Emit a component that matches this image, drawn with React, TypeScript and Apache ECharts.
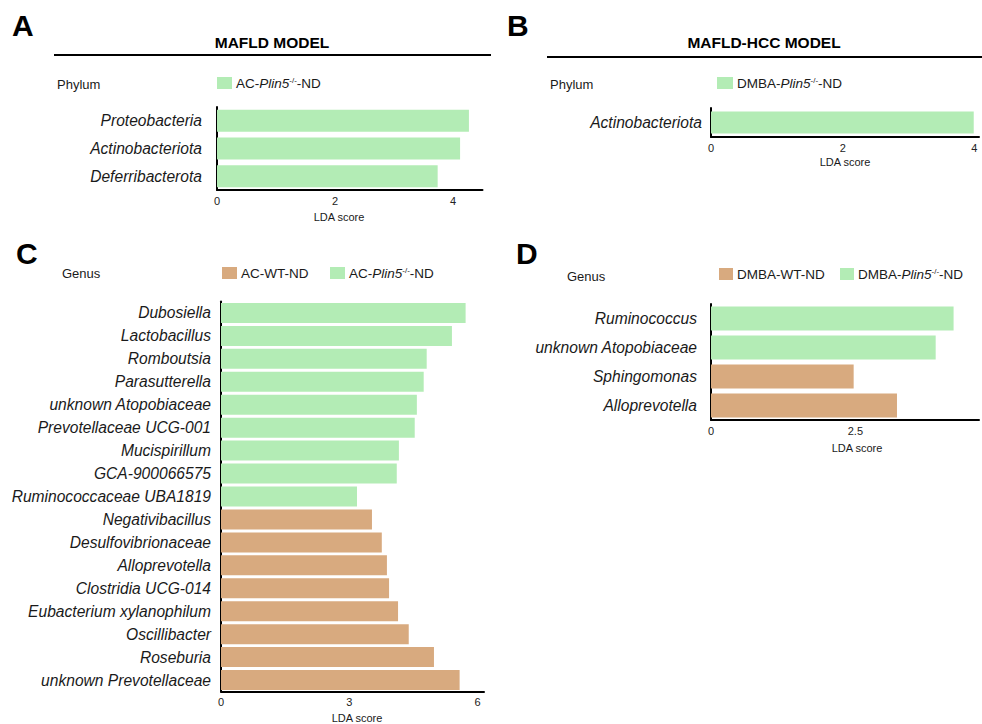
import React, { useEffect, useRef } from "react";
import * as echarts from "echarts";

const GREEN = "#b3ecb5";
const BROWN = "#d8aa7f";
const FONT = "'Liberation Sans', Arial, Helvetica, sans-serif";

const phylumA = ["Proteobacteria", "Actinobacteriota", "Deferribacterota"];
const ldaA = [4.27, 4.12, 3.74];

const phylumB = ["Actinobacteriota"];
const ldaB = [3.99];

const genusC = [
  "Dubosiella",
  "Lactobacillus",
  "Romboutsia",
  "Parasutterella",
  "unknown Atopobiaceae",
  "Prevotellaceae UCG-001",
  "Mucispirillum",
  "GCA-900066575",
  "Ruminococcaceae UBA1819",
  "Negativibacillus",
  "Desulfovibrionaceae",
  "Alloprevotella",
  "Clostridia UCG-014",
  "Eubacterium xylanophilum",
  "Oscillibacter",
  "Roseburia",
  "unknown Prevotellaceae",
];
const groupC = ["KO", "KO", "KO", "KO", "KO", "KO", "KO", "KO", "KO", "WT", "WT", "WT", "WT", "WT", "WT", "WT", "WT"];
const ldaC = [5.72, 5.4, 4.81, 4.74, 4.58, 4.53, 4.16, 4.11, 3.18, 3.53, 3.76, 3.88, 3.93, 4.14, 4.39, 4.98, 5.58];

const genusD = ["Ruminococcus", "unknown Atopobiaceae", "Sphingomonas", "Alloprevotella"];
const groupD = ["KO", "KO", "WT", "WT"];
const ldaD = [4.2, 3.89, 2.47, 3.22];

const NAME_AC_KO = "AC-Plin5-/--ND";
const NAME_AC_WT = "AC-WT-ND";
const NAME_DM_KO = "DMBA-Plin5-/--ND";
const NAME_DM_WT = "DMBA-WT-ND";

function legendLabel(name: string): string {
  if (name.indexOf("Plin5") >= 0) {
    const prefix = name.split("Plin5")[0];
    return prefix + "{i|Plin5}{s|-/-}-ND";
  }
  return name;
}

function pick(values: number[], groups: string[], g: string) {
  return values.map((v, i) => (groups[i] === g ? v : "-"));
}

function xAxisCfg(gridIndex: number, max: number, interval: number) {
  return {
    type: "value",
    gridIndex,
    min: 0,
    max,
    interval,
    axisLine: { show: true, lineStyle: { color: "#000", width: 2 } },
    axisTick: { show: false },
    splitLine: { show: false },
    axisLabel: {
      margin: 5,
      fontSize: 11,
      fontFamily: FONT,
      color: "#222",
      formatter: (v: number) => {
        const r = v / interval;
        return Math.abs(r - Math.round(r)) < 1e-6 ? String(v) : "";
      },
    },
  };
}

function yAxisCfg(gridIndex: number, data: string[], margin: number) {
  return {
    type: "category",
    gridIndex,
    data,
    inverse: true,
    axisLine: { show: true, lineStyle: { color: "#000", width: 2 } },
    axisTick: { show: false },
    splitLine: { show: false },
    axisLabel: {
      margin,
      fontSize: 15.6,
      fontStyle: "italic",
      fontFamily: FONT,
      color: "#1a1a1a",
    },
  };
}

function legendCfg(name: string, left: number, top: number, w: number, h: number) {
  return {
    data: [name],
    left,
    top,
    padding: 0,
    itemWidth: w,
    itemHeight: h,
    itemGap: 0,
    selectedMode: false,
    icon: "rect",
    formatter: legendLabel,
    textStyle: {
      fontSize: 13.5,
      fontFamily: FONT,
      color: "#1a1a1a",
      padding: [0, 0, 0, -1],
      rich: {
        i: { fontStyle: "italic", fontSize: 13.5, fontFamily: FONT, color: "#1a1a1a" },
        s: { fontSize: 8, fontFamily: FONT, color: "#1a1a1a", verticalAlign: "top", padding: [0, 0, 6, 0] },
      },
    },
  };
}

function txt(text: string, x: number, y: number, size: number, opts: any = {}) {
  return {
    type: "text",
    x,
    y,
    style: {
      text,
      fontSize: size,
      fontFamily: FONT,
      fill: opts.fill || "#1a1a1a",
      fontWeight: opts.bold ? "bold" : "normal",
      textAlign: opts.align || "left",
      textVerticalAlign: "middle",
    },
  };
}

export default function App() {
  const ref = useRef<HTMLDivElement>(null);

  useEffect(() => {
    if (!ref.current) return;
    const chart = echarts.init(ref.current, null, { renderer: "svg" });
    const option: any = {
      animation: false,
      backgroundColor: "#fff",
      grid: [
        { left: 217, top: 107, width: 265.5, height: 83 },
        { left: 711, top: 108, width: 271, height: 29 },
        { left: 221, top: 301.5, width: 263, height: 390 },
        { left: 711, top: 304, width: 271, height: 116 },
      ],
      xAxis: [
        xAxisCfg(0, 4.5, 2),
        xAxisCfg(1, 4.07, 2),
        xAxisCfg(2, 6.15, 3),
        xAxisCfg(3, 4.64, 2.5),
      ],
      yAxis: [
        yAxisCfg(0, phylumA, 15),
        yAxisCfg(1, phylumB, 9),
        yAxisCfg(2, genusC, 10),
        yAxisCfg(3, genusD, 14),
      ],
      legend: [
        legendCfg(NAME_AC_KO, 217, 76, 15, 12),
        legendCfg(NAME_DM_KO, 717, 76, 16, 12),
        legendCfg(NAME_AC_WT, 222, 266, 15, 12),
        legendCfg(NAME_AC_KO, 330, 266, 15, 12),
        legendCfg(NAME_DM_WT, 719, 267, 14, 12),
        legendCfg(NAME_DM_KO, 840, 267, 14, 12),
      ],
      series: [
        {
          name: NAME_AC_KO,
          type: "bar",
          xAxisIndex: 0,
          yAxisIndex: 0,
          data: ldaA,
          barWidth: 22,
          itemStyle: { color: GREEN },
        },
        {
          name: NAME_DM_KO,
          type: "bar",
          xAxisIndex: 1,
          yAxisIndex: 1,
          data: ldaB,
          barWidth: 22,
          itemStyle: { color: GREEN },
        },
        {
          name: NAME_AC_WT,
          type: "bar",
          stack: "c",
          xAxisIndex: 2,
          yAxisIndex: 2,
          data: pick(ldaC, groupC, "WT"),
          barWidth: 20,
          itemStyle: { color: BROWN },
        },
        {
          name: NAME_AC_KO,
          type: "bar",
          stack: "c",
          xAxisIndex: 2,
          yAxisIndex: 2,
          data: pick(ldaC, groupC, "KO"),
          barWidth: 20,
          itemStyle: { color: GREEN },
        },
        {
          name: NAME_DM_WT,
          type: "bar",
          stack: "d",
          xAxisIndex: 3,
          yAxisIndex: 3,
          data: pick(ldaD, groupD, "WT"),
          barWidth: 24,
          itemStyle: { color: BROWN },
        },
        {
          name: NAME_DM_KO,
          type: "bar",
          stack: "d",
          xAxisIndex: 3,
          yAxisIndex: 3,
          data: pick(ldaD, groupD, "KO"),
          barWidth: 24,
          itemStyle: { color: GREEN },
        },
      ],
      graphic: [
        txt("A", 12, 25, 30, { bold: true, fill: "#000" }),
        txt("B", 507, 25, 30, { bold: true, fill: "#000" }),
        txt("C", 16, 253, 30, { bold: true, fill: "#000" }),
        txt("D", 516, 253, 30, { bold: true, fill: "#000" }),
        txt("MAFLD MODEL", 272, 42, 15.5, { bold: true, align: "center", fill: "#000" }),
        txt("MAFLD-HCC MODEL", 764, 42, 15.5, { bold: true, align: "center", fill: "#000" }),
        { type: "line", shape: { x1: 54, y1: 55, x2: 491, y2: 55 }, style: { stroke: "#000", lineWidth: 2 } },
        { type: "line", shape: { x1: 547, y1: 57, x2: 982, y2: 57 }, style: { stroke: "#000", lineWidth: 2 } },
        txt("Phylum", 57, 84, 13),
        txt("Phylum", 550, 84, 13),
        txt("Genus", 62, 273, 13),
        txt("Genus", 567, 276, 13),
        txt("LDA score", 339, 217, 11, { align: "center" }),
        txt("LDA score", 845, 162, 11, { align: "center" }),
        txt("LDA score", 357, 718, 11, { align: "center" }),
        txt("LDA score", 857, 448, 11, { align: "center" }),
      ],
    };
    chart.setOption(option);
    return () => chart.dispose();
  }, []);

  return (
    <div
      style={{ position: "fixed", left: 0, top: 0, width: 982, height: 724, overflow: "hidden", background: "#fff" }}
    >
      <div ref={ref} style={{ width: 982, height: 724 }} />
    </div>
  );
}
